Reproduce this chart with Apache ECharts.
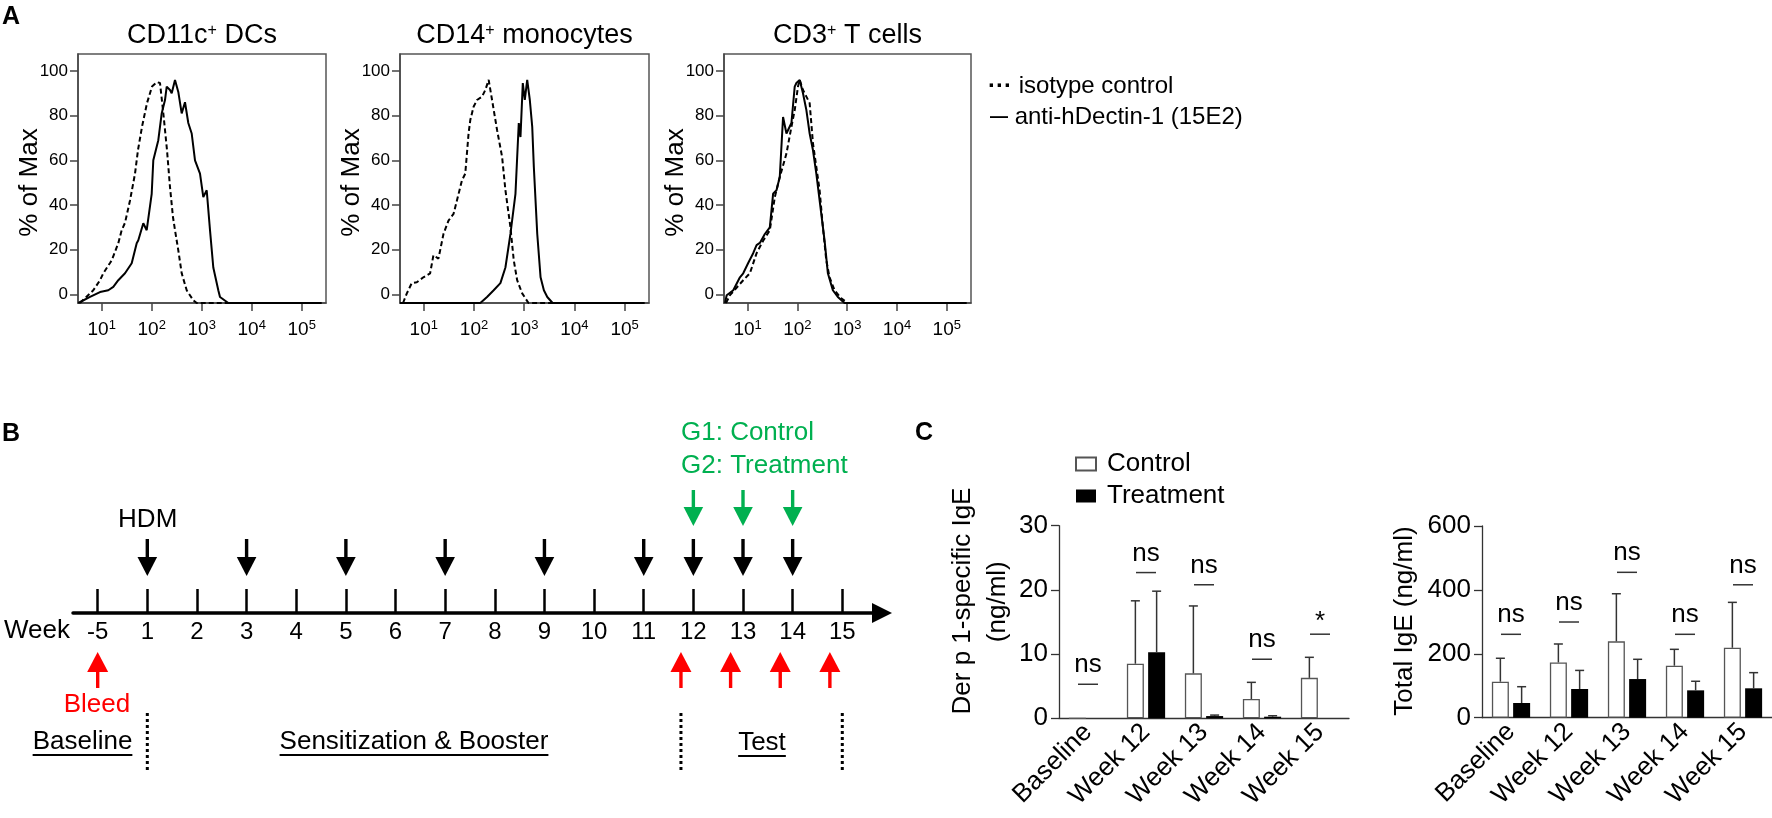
<!DOCTYPE html>
<html>
<head>
<meta charset="utf-8">
<script src="https://cdn.jsdelivr.net/npm/echarts@6/dist/echarts.min.js"></script>
<style>
html,body{margin:0;padding:0;background:#fff;}
#main{width:1772px;height:818px;}
</style>
</head>
<body>
<div id="main"></div>
<script>
// ---------------- DATA ----------------
// Panel A: flow histograms, x in log10 units, y in % of Max
const histXTicks = [1, 2, 3, 4, 5];
const histYTicks = [0, 20, 40, 60, 80, 100];
const histTitles = ['CD11c{s|+} DCs', 'CD14{s|+} monocytes', 'CD3{s|+} T cells'];

const cd11cIsotype = [[0.566,-3.9],[0.832,1.8],[0.966,6.3],[1.032,9.4],[1.166,14],[1.2,15.2],[1.266,19],[1.332,22.9],[1.4,28.7],[1.466,32],[1.566,42],[1.666,54],[1.726,64.6],[1.806,75],[1.906,85.6],[2.006,93],[2.106,95],[2.166,94.6],[2.226,82.5],[2.306,64.6],[2.366,48],[2.426,34.5],[2.466,28.7],[2.532,19.7],[2.6,9.4],[2.7,1.8],[2.832,-2.7],[2.9,-3.9],[3.6,-3.9]];
const cd11cAnti = [[0.532,-3.9],[0.766,-1.2],[0.966,1],[1.132,1.8],[1.232,3.3],[1.332,6.3],[1.466,9.4],[1.6,13.9],[1.7,22.9],[1.732,24.2],[1.766,24],[1.832,31.8],[1.9,28.7],[2.0,45],[2.032,60],[2.132,69],[2.2,81],[2.266,87],[2.3,93],[2.366,91.5],[2.4,90],[2.466,96],[2.532,90.6],[2.6,81],[2.666,86],[2.732,76.7],[2.8,72],[2.866,60],[2.966,54],[3.032,43.5],[3.1,46.6],[3.166,28.7],[3.232,12],[3.332,1.8],[3.366,-1.2],[3.532,-3.9],[5.4,-3.9]];
const cd14Isotype = [[0.586,-3.9],[0.66,0.3],[0.76,5],[0.86,5.4],[0.992,7.6],[1.126,9.4],[1.192,17.5],[1.292,16],[1.392,27],[1.492,33],[1.592,36],[1.66,42],[1.76,51],[1.826,54],[1.892,72],[1.926,78],[1.992,84],[2.06,87],[2.16,88.5],[2.226,91.5],[2.292,96],[2.36,87],[2.46,73.5],[2.56,61.5],[2.626,46.6],[2.726,30],[2.792,15.2],[2.86,6.3],[2.96,0.4],[3.086,-3.9],[3.6,-3.9]];
const cd14Anti = [[0.526,-3.9],[2.126,-3.9],[2.26,-1.2],[2.392,1.8],[2.526,5],[2.626,12],[2.726,27],[2.826,45],[2.892,76.7],[2.926,70.4],[2.972,94.6],[3.012,87],[3.06,96],[3.112,87],[3.16,75],[3.192,57],[3.26,27],[3.326,7.6],[3.392,1.8],[3.46,-1.2],[3.566,-3.9],[5.4,-3.9]];
const cd3Isotype = [[0.566,-3.9],[0.646,-0.4],[0.912,6.3],[1.046,9.4],[1.18,18.4],[1.312,24],[1.446,28.7],[1.546,43.5],[1.646,52.5],[1.78,63],[1.88,75],[1.946,82.5],[2.012,93],[2.046,96],[2.112,91.5],[2.18,88.5],[2.246,85.6],[2.312,67.7],[2.38,57],[2.446,46.6],[2.512,30],[2.58,15.2],[2.646,7.6],[2.746,1.8],[2.88,-1.8],[3.006,-3.9],[3.6,-3.9]];
const cd3Anti = [[0.546,-3.9],[0.58,-0.4],[0.712,1.8],[0.846,7.6],[0.912,9.4],[1.012,14],[1.112,18.4],[1.18,22],[1.246,23],[1.346,27],[1.446,30],[1.512,45],[1.58,46.6],[1.646,52.5],[1.712,79.4],[1.78,72],[1.88,76.7],[1.946,93],[1.98,94.6],[2.046,96],[2.112,90],[2.18,82.5],[2.246,72],[2.312,64.6],[2.38,54],[2.446,42],[2.546,24],[2.612,9.4],[2.712,1.8],[2.812,-1.2],[2.946,-3.9],[5.4,-3.9]];

// Panel B: timeline (positions are indices into weekLabels)
const weekLabels = ['-5','1','2','3','4','5','6','7','8','9','10','11','12','13','14','15'];
const hdmWeeks = [1, 3, 5, 7, 9, 11, 12, 13, 14];
const treatWeeks = [12, 13, 14];
const bleedWeeks = [0, 11.75, 12.75, 13.75, 14.75];
const phaseBounds = [1, 11.75, 15];

// Panel C: IgE bar charts
const igeCats = ['Baseline', 'Week 12', 'Week 13', 'Week 14', 'Week 15'];
const derpControl    = [0, 8.5, 7.0, 3.0, 6.3];
const derpControlErr = [0, 18.3, 17.5, 5.6, 9.5];
const derpTreat      = [0, 10.3, 0.35, 0.25, 0];
const derpTreatErr   = [0, 19.8, 0.5, 0.4, 0];
const derpSigY    = [5.3, 22.7, 20.8, 9.2, 13.1];
const derpSigText = ['ns', 'ns', 'ns', 'ns', '*'];
const totalControl    = [112.7, 173, 239, 162.8, 219];
const totalControlErr = [186, 230.7, 388, 214, 361];
const totalTreat      = [46, 89.8, 121, 85.6, 92];
const totalTreatErr   = [97, 148, 182.8, 114, 141];
const totalSigY    = [261, 299.5, 455, 261, 416];
const totalSigText = ['ns', 'ns', 'ns', 'ns', 'ns'];

// ---------------- LAYOUT / STYLE ----------------
const FF = '"Liberation Sans", Arial, Helvetica, sans-serif';
const GREEN = '#00b050', RED = '#ff0000';
const BAR_W = 17, BAR_GAP = 0.25;
const BAR_OFF = (BAR_W + BAR_W * BAR_GAP) / 2;

const cv = document.createElement('canvas').getContext('2d');
function measure(t, size, weight) { cv.font = (weight || 'normal') + ' ' + size + 'px ' + FF; return cv.measureText(t).width; }

const histGrids = [
  {left: 78, top: 54, width: 248, height: 249},
  {left: 400, top: 54, width: 249, height: 249},
  {left: 724, top: 54, width: 247, height: 249}
];
const grids = histGrids.map(g => Object.assign({show: true, borderColor: '#555', borderWidth: 1.5, backgroundColor: 'transparent'}, g));
grids.push({left: 73, top: 480, width: 809, height: 133});       // timeline
grids.push({left: 1059, top: 525.7, width: 290, height: 192.6}); // Der p 1
grids.push({left: 1482, top: 526, width: 290, height: 191.7});   // Total IgE

const xAxes = [], yAxes = [];
for (let i = 0; i < 3; i++) {
  xAxes.push({
    type: 'value', gridIndex: i, min: 0.526, max: 5.486,
    axisLine: {show: true, onZero: false, lineStyle: {color: '#444', width: 1.5}},
    axisTick: {show: true, customValues: histXTicks, length: 8, lineStyle: {color: '#444', width: 1.5}},
    axisLabel: {customValues: histXTicks, formatter: v => '10{s|' + v + '}', color: '#000', fontSize: 19, margin: 16,
      rich: {s: {fontSize: 13, color: '#000', padding: [0, 0, 9, 0]}}},
    splitLine: {show: false}
  });
  yAxes.push({
    type: 'value', gridIndex: i, min: -3.9, max: 107.6,
    axisLine: {show: true, lineStyle: {color: '#444', width: 1.5}},
    axisTick: {show: true, customValues: histYTicks, length: 8, lineStyle: {color: '#444', width: 1.5}},
    axisLabel: {customValues: histYTicks, color: '#000', fontSize: 17, margin: 10},
    splitLine: {show: false}
  });
}
const weekIdx = weekLabels.map((_, i) => i);
xAxes.push({
  type: 'value', gridIndex: 3, min: -0.497, max: 15.8,
  axisLine: {show: true, onZero: false, symbol: ['none', 'triangle'], symbolSize: [20, 20], lineStyle: {color: '#000', width: 3.5}},
  axisTick: {show: true, inside: true, length: 24, customValues: weekIdx, lineStyle: {color: '#000', width: 2.5}},
  axisLabel: {customValues: weekIdx, formatter: v => weekLabels[Math.round(v)], color: '#000', fontSize: 24, margin: 7},
  splitLine: {show: false}
});
yAxes.push({type: 'value', gridIndex: 3, min: 0, max: 1, show: false});

function barX(gi) {
  return {
    type: 'category', gridIndex: gi, data: igeCats,
    axisLine: {onZero: false, lineStyle: {color: '#333', width: 1.3}},
    axisTick: {alignWithLabel: true, length: 8, lineStyle: {color: '#333', width: 1.3}},
    axisLabel: {rotate: 45, interval: 0, fontSize: 26, color: '#000', margin: 10}
  };
}
function barY(gi, max, interval) {
  return {
    type: 'value', gridIndex: gi, min: 0, max: max, interval: interval,
    axisLine: {show: true, lineStyle: {color: '#333', width: 1.3}},
    axisTick: {show: true, length: 8, lineStyle: {color: '#333', width: 1.3}},
    axisLabel: {fontSize: 26, color: '#000', margin: 11},
    splitLine: {show: false}
  };
}
xAxes.push(barX(4)); yAxes.push(barY(4, 30, 10));
xAxes.push(barX(5)); yAxes.push(barY(5, 600, 200));

// ---------------- SERIES ----------------
const series = [];
const histPairs = [[cd11cIsotype, cd11cAnti], [cd14Isotype, cd14Anti], [cd3Isotype, cd3Anti]];
histPairs.forEach((pair, i) => {
  series.push({type: 'line', name: 'isotype control', xAxisIndex: i, yAxisIndex: i, data: pair[0], symbol: 'none',
    lineStyle: {color: '#000', width: 2, type: [5, 3]}, z: 3});
  series.push({type: 'line', name: 'anti-hDectin-1 (15E2)', xAxisIndex: i, yAxisIndex: i, data: pair[1], symbol: 'none',
    lineStyle: {color: '#000', width: 2}, z: 4});
});

function arrowDown(x, top, tip, color) {
  return {type: 'group', children: [
    {type: 'rect', shape: {x: x - 1.7, y: top, width: 3.4, height: tip - 19 - top + 1}, style: {fill: color}},
    {type: 'polygon', shape: {points: [[x - 9.8, tip - 19], [x + 9.8, tip - 19], [x, tip]]}, style: {fill: color}}
  ]};
}
function arrowUp(x, tip, bottom, color) {
  return {type: 'group', children: [
    {type: 'rect', shape: {x: x - 1.7, y: tip + 19, width: 3.4, height: bottom - tip - 19}, style: {fill: color}},
    {type: 'polygon', shape: {points: [[x - 10.5, tip + 20], [x + 10.5, tip + 20], [x, tip]]}, style: {fill: color}}
  ]};
}
series.push({type: 'custom', xAxisIndex: 3, yAxisIndex: 3, data: hdmWeeks.map(w => [w, 0]),
  renderItem: (p, api) => { const c = api.coord([api.value(0), 0]); return arrowDown(c[0], c[1] - 74, c[1] - 37, '#000'); }});
series.push({type: 'custom', xAxisIndex: 3, yAxisIndex: 3, data: treatWeeks.map(w => [w, 0]),
  renderItem: (p, api) => { const c = api.coord([api.value(0), 0]); return arrowDown(c[0], c[1] - 123, c[1] - 87, GREEN); }});
series.push({type: 'custom', xAxisIndex: 3, yAxisIndex: 3, data: bleedWeeks.map(w => [w, 0]),
  renderItem: (p, api) => { const c = api.coord([api.value(0), 0]); return arrowUp(c[0], c[1] + 39, c[1] + 75, RED); }});
series.push({type: 'custom', xAxisIndex: 3, yAxisIndex: 3, data: phaseBounds.map(w => [w, 0]),
  renderItem: (p, api) => { const c = api.coord([api.value(0), 0]);
    return {type: 'line', shape: {x1: c[0], y1: c[1] + 100, x2: c[0], y2: c[1] + 159}, style: {stroke: '#000', lineWidth: 3, lineDash: [3, 3]}}; }});

function addBarChart(gi, ctrl, ctrlErr, trt, trtErr, sigY, sigText) {
  series.push({type: 'bar', name: 'Control', xAxisIndex: gi, yAxisIndex: gi, data: ctrl, barWidth: BAR_W, barGap: (BAR_GAP * 100) + '%',
    itemStyle: {color: '#fff', borderColor: '#555', borderWidth: 1.3}});
  series.push({type: 'bar', name: 'Treatment', xAxisIndex: gi, yAxisIndex: gi, data: trt, barWidth: BAR_W, barGap: (BAR_GAP * 100) + '%',
    itemStyle: {color: '#000'}});
  const errSeries = (means, errs, off) => ({
    type: 'custom', xAxisIndex: gi, yAxisIndex: gi, z: 5,
    data: means.map((m, i) => [i, m, errs[i]]),
    renderItem: (p, api) => {
      const m = api.value(1), e = api.value(2);
      if (!(e > m)) return null;
      const a = api.coord([api.value(0), m]), b = api.coord([api.value(0), e]);
      const x = a[0] + off;
      return {type: 'group', children: [
        {type: 'line', shape: {x1: x, y1: a[1], x2: x, y2: b[1]}, style: {stroke: '#333', lineWidth: 1.5}},
        {type: 'line', shape: {x1: x - 4.5, y1: b[1], x2: x + 4.5, y2: b[1]}, style: {stroke: '#333', lineWidth: 1.5}}
      ]};
    }
  });
  series.push(errSeries(ctrl, ctrlErr, -BAR_OFF));
  series.push(errSeries(trt, trtErr, BAR_OFF));
  series.push({type: 'custom', xAxisIndex: gi, yAxisIndex: gi, z: 5,
    data: sigY.map((y, i) => [i, y]),
    renderItem: (p, api) => {
      const c = api.coord([api.value(0), api.value(1)]);
      const t = sigText[p.dataIndex];
      return {type: 'group', children: [
        {type: 'line', shape: {x1: c[0] - 10, y1: c[1], x2: c[0] + 10, y2: c[1]}, style: {stroke: '#333', lineWidth: 1.5}},
        {type: 'text', x: c[0], y: c[1] - (t === '*' ? 12 : 19),
          style: {text: t, fontSize: 26, fontFamily: FF, fill: '#000', align: 'center', verticalAlign: 'middle'}}
      ]};
    }
  });
}
addBarChart(4, derpControl, derpControlErr, derpTreat, derpTreatErr, derpSigY, derpSigText);
addBarChart(5, totalControl, totalControlErr, totalTreat, totalTreatErr, totalSigY, totalSigText);

// ---------------- TEXT GRAPHICS ----------------
const T = (x, y, text, opts) => ({type: 'text', x: x, y: y, rotation: (opts && opts.rotation) || 0,
  style: Object.assign({text: text, fontSize: 26, fontFamily: FF, fill: '#000', align: 'left', verticalAlign: 'middle'}, opts && opts.style)});
const graphics = [];
graphics.push(T(2, 17, 'A', {style: {fontSize: 25, fontWeight: 'bold'}}));
graphics.push(T(2, 434, 'B', {style: {fontSize: 25, fontWeight: 'bold'}}));
graphics.push(T(915, 433, 'C', {style: {fontSize: 25, fontWeight: 'bold'}}));
histGrids.forEach((g, i) => {
  graphics.push(T(g.left + g.width / 2, 36, histTitles[i], {style: {align: 'center', fontSize: 27,
    rich: {s: {fontSize: 16, fontFamily: FF, fill: '#000', padding: [0, 0, 10, 0]}}}}));
  graphics.push(T(g.left - 48, g.top + g.height / 2 + 4, '% of Max', {rotation: Math.PI / 2, style: {align: 'center', fontSize: 26}}));
});
graphics.push(T(988, 86, '{d|···} isotype control', {style: {fontSize: 24,
  rich: {d: {fontSize: 24, fontWeight: 'bold', fontFamily: FF, fill: '#000'}}}}));
graphics.push(T(990, 117, '{d|—} anti-hDectin-1 (15E2)', {style: {fontSize: 24,
  rich: {d: {fontSize: 18, fontWeight: 'bold', fontFamily: FF, fill: '#000'}}}}));
// timeline texts
graphics.push(T(70, 631, 'Week', {style: {align: 'right'}}));
graphics.push(T(147.7, 520, 'HDM', {style: {align: 'center'}}));
graphics.push(T(681, 433, 'G1: Control', {style: {fill: GREEN}}));
graphics.push(T(681, 466, 'G2: Treatment', {style: {fill: GREEN}}));
graphics.push(T(97, 705, 'Bleed', {style: {align: 'center', fill: RED}}));
[['Baseline', 82.5, 742], ['Sensitization & Booster', 414, 742], ['Test', 762, 743]].forEach(([t, x, y]) => {
  graphics.push(T(x, y, t, {style: {align: 'center'}}));
  const w = measure(t, 26);
  graphics.push({type: 'line', shape: {x1: x - w / 2, y1: y + 13, x2: x + w / 2, y2: y + 13}, style: {stroke: '#000', lineWidth: 1.8}});
});
// bar chart y titles
graphics.push(T(963.3, 601, 'Der p 1-specific IgE', {rotation: Math.PI / 2, style: {align: 'center'}}));
graphics.push(T(998.3, 601.7, '(ng/ml)', {rotation: Math.PI / 2, style: {align: 'center'}}));
graphics.push(T(1405, 621, 'Total IgE (ng/ml)', {rotation: Math.PI / 2, style: {align: 'center'}}));

const option = {
  animation: false,
  backgroundColor: '#fff',
  textStyle: {fontFamily: FF, color: '#000'},
  grid: grids,
  xAxis: xAxes,
  yAxis: yAxes,
  legend: {data: ['Control', 'Treatment'], left: 1070, top: 446, orient: 'vertical', icon: 'rect',
    itemWidth: 20, itemHeight: 13, itemGap: 6, selectedMode: false,
    textStyle: {fontSize: 26, color: '#000', padding: [0, 0, 0, 6]}},
  series: series,
  graphic: graphics
};
const chart = echarts.init(document.getElementById('main'), null, {renderer: 'canvas'});
chart.setOption(option);
</script>
</body>
</html>
